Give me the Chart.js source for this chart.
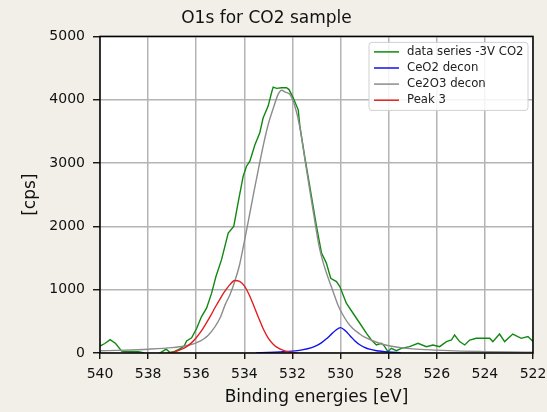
<!DOCTYPE html>
<html>
<head>
<meta charset="utf-8">
<script src="https://cdn.jsdelivr.net/npm/chart.js@4"></script>
<style>
  html, body { margin: 0; padding: 0; background: #f2efe9; }
  #wrap { width: 547px; height: 412px; }
</style>
</head>
<body>
<div id="wrap"><canvas id="xpsChart" width="547" height="412"></canvas></div>
<script>
// x axis ticks (binding energy, eV) and y ticks (cps)
const xTicks = [540, 538, 536, 534, 532, 530, 528, 526, 524, 522]
const yTicks = [0, 1000, 2000, 3000, 4000, 5000]

const seriesLabels = ['data series -3V CO2', 'CeO2 decon', 'Ce2O3 decon', 'Peak 3']
const seriesColors = ['#118811', '#1010ee', '#8c8c8c', '#e02020']

// measured spectrum
const dataX = [540.00, 539.80, 539.58, 539.35, 539.10, 538.80, 538.40, 538.25, 538.10, 537.90,
  537.60, 537.45, 537.25, 537.08, 536.90, 536.70, 536.50, 536.40, 536.19, 535.98,
  535.78, 535.57, 535.36, 535.18, 534.95, 534.67, 534.44, 534.26, 534.05, 533.91,
  533.77, 533.56, 533.36, 533.22, 533.01, 532.87, 532.80, 532.66, 532.45, 532.25,
  532.14, 531.97, 531.76, 531.69, 531.49, 531.28, 531.00, 530.79, 530.59, 530.41,
  530.17, 530.03, 529.76, 529.48, 529.20, 528.92, 528.72, 528.51, 528.30, 528.20,
  528.03, 527.89, 527.68, 527.47, 527.13, 526.78, 526.43, 526.16, 525.88, 525.60,
  525.39, 525.26, 525.05, 524.84, 524.63, 524.36, 523.80, 523.67, 523.39, 523.18,
  522.84, 522.49, 522.21, 522.00]
const dataY = [110, 150, 210, 150, 30, 20, 20, 10, -20, -40,
  -20, 15, 60, 8, 25, 60, 110, 190, 240, 390,
  575, 707, 945, 1207, 1470, 1893, 2000, 2370, 2790, 2950,
  3030, 3290, 3475, 3710, 3900, 4110, 4200, 4180, 4190, 4190,
  4160, 4030, 3840, 3580, 3100, 2630, 2000, 1577, 1420, 1180,
  1128, 1050, 786, 628, 470, 311, 205, 127, 153, 120,
  20, 74, 36, 74, 100, 153, 100, 127, 100, 180,
  205, 285, 180, 127, 205, 232, 232, 180, 300, 180,
  300, 232, 260, 180]

// CeO2 component
const ceo2X = [533.5, 533.0, 532.5, 532.0, 531.6, 531.2, 531.0, 530.8, 530.6, 530.4,
  530.2, 530.0, 529.8, 529.6, 529.4, 529.2, 529.0, 528.8, 528.5, 528.0, 527.5]
const ceo2Y = [5, 10, 18, 30, 50, 85, 115, 160, 220, 290,
  360, 400, 350, 270, 190, 130, 90, 60, 35, 15, 5]

// Ce2O3 component
const ce2o3X = [540.0, 539.0, 538.0, 537.0, 536.5, 536.0, 535.5, 535.0, 534.8, 534.6,
  534.4, 534.2, 534.0, 533.8, 533.6, 533.4, 533.2, 533.0, 532.8, 532.6,
  532.45, 532.3, 532.1, 531.9, 531.7, 531.5, 531.3, 531.1, 530.9, 530.7,
  530.5, 530.3, 530.1, 529.9, 529.7, 529.5, 529.2, 529.0, 528.5, 528.0,
  527.5, 527.0, 526.0, 525.0, 524.0, 523.0, 522.0]
const ce2o3Y = [35, 45, 60, 85, 110, 160, 280, 560, 760, 920,
  1130, 1390, 1760, 2150, 2550, 2930, 3300, 3620, 3860, 4080,
  4150, 4120, 4080, 3900, 3580, 3100, 2620, 2150, 1700, 1400,
  1170, 960, 750, 600, 480, 390, 300, 250, 170, 115,
  85, 65, 45, 30, 22, 16, 12]

// Peak 3 component
const peak3X = [537.2, 537.0, 536.8, 536.6, 536.4, 536.2, 536.0, 535.8, 535.6, 535.4,
  535.2, 535.0, 534.8, 534.6, 534.4, 534.2, 534.0, 533.8, 533.6, 533.4,
  533.2, 533.0, 532.8, 532.6, 532.4, 532.2, 532.0, 531.8]
const peak3Y = [0, 10, 30, 60, 100, 160, 240, 340, 460, 590,
  730, 860, 980, 1080, 1145, 1130, 1060, 920, 740, 550,
  370, 230, 140, 80, 45, 20, 8, 0]

const toPoints = (xs, ys) => xs.map((x, i) => ({ x: x, y: ys[i] }))

const FONT = "'DejaVu Sans', sans-serif"

// page background + white plot area + black frame
const frame = {
  id: 'frame',
  beforeDraw(chart) {
    const { ctx, chartArea: a } = chart
    ctx.save()
    ctx.fillStyle = '#f2efe9'
    ctx.fillRect(0, 0, chart.width, chart.height)
    ctx.fillStyle = '#ffffff'
    ctx.fillRect(a.left, a.top, a.right - a.left, a.bottom - a.top)
    ctx.restore()
  },
  afterDatasetsDraw(chart) {
    const { ctx, chartArea: a } = chart
    ctx.save()
    ctx.strokeStyle = '#000000'
    ctx.lineWidth = 1.5
    ctx.strokeRect(a.left, a.top, a.right - a.left, a.bottom - a.top)
    ctx.restore()
  }
}

// legend box inside the plot, upper right
const innerLegend = {
  id: 'innerLegend',
  afterDraw(chart) {
    const { ctx, chartArea: a } = chart
    const w = 159, h = 68
    const x = a.right - 5 - w
    const y = a.top + 6
    ctx.save()
    ctx.fillStyle = 'rgba(255,255,255,0.85)'
    ctx.strokeStyle = '#d0d0d0'
    ctx.lineWidth = 1
    ctx.beginPath()
    ctx.roundRect(x, y, w, h, 3)
    ctx.fill()
    ctx.stroke()
    ctx.font = '11.7px ' + FONT
    ctx.textBaseline = 'middle'
    seriesLabels.forEach((label, i) => {
      const ry = y + 9.5 + i * 16.1
      ctx.strokeStyle = seriesColors[i]
      ctx.lineWidth = 1.5
      ctx.beginPath()
      ctx.moveTo(x + 5, ry)
      ctx.lineTo(x + 30, ry)
      ctx.stroke()
      ctx.fillStyle = '#222222'
      ctx.fillText(label, x + 38, ry)
    })
    ctx.restore()
  }
}

const ctx = document.getElementById('xpsChart')

new Chart(ctx, {
  type: 'line',
  data: {
    datasets: [
      { label: seriesLabels[0], data: toPoints(dataX, dataY), borderColor: seriesColors[0], order: 4 },
      { label: seriesLabels[1], data: toPoints(ceo2X, ceo2Y), borderColor: seriesColors[1], order: 3, cubicInterpolationMode: 'monotone' },
      { label: seriesLabels[2], data: toPoints(ce2o3X, ce2o3Y), borderColor: seriesColors[2], order: 2, cubicInterpolationMode: 'monotone' },
      { label: seriesLabels[3], data: toPoints(peak3X, peak3Y), borderColor: seriesColors[3], order: 1, cubicInterpolationMode: 'monotone' }
    ]
  },
  options: {
    responsive: false,
    animation: false,
    devicePixelRatio: 1,
    layout: { padding: { left: 0, right: 14, top: 0, bottom: 0 } },
    elements: {
      point: { radius: 0 },
      line: { borderWidth: 1.4, tension: 0 }
    },
    plugins: {
      legend: { display: false },
      tooltip: { enabled: false },
      title: {
        display: true,
        text: 'O1s for CO2 sample',
        color: '#111111',
        font: { family: FONT, size: 17, weight: 'normal' },
        padding: { top: 8, bottom: 8 }
      }
    },
    scales: {
      x: {
        type: 'linear',
        reverse: true,
        min: 522,
        max: 540,
        afterFit(scale) {
          scale.height = 59
          scale.paddingLeft = 0
          scale.paddingRight = 0
        },
        afterBuildTicks(scale) { scale.ticks = xTicks.map(v => ({ value: v })) },
        grid: { color: '#b4b4b4', lineWidth: 1.5, tickColor: '#000000', tickLength: 6, tickWidth: 1.3 },
        border: { display: false },
        ticks: { color: '#111111', font: { family: FONT, size: 14 }, padding: 7, maxRotation: 0 },
        title: {
          display: true,
          text: 'Binding energies [eV]',
          color: '#111111',
          font: { family: FONT, size: 17 },
          padding: { top: 0, bottom: 4 }
        }
      },
      y: {
        min: 0,
        max: 5000,
        afterFit(scale) {
          scale.width = 100
          scale.paddingTop = 0
          scale.paddingBottom = 0
        },
        afterBuildTicks(scale) { scale.ticks = yTicks.map(v => ({ value: v })) },
        grid: { color: '#b4b4b4', lineWidth: 1.5, tickColor: '#000000', tickLength: 7, tickWidth: 1.3 },
        border: { display: false },
        ticks: {
          color: '#111111',
          font: { family: FONT, size: 14 },
          padding: 8,
          callback: v => String(v)
        },
        title: {
          display: true,
          text: '[cps]',
          color: '#111111',
          font: { family: FONT, size: 17 },
          padding: { top: 20, bottom: 0 }
        }
      }
    }
  },
  plugins: [frame, innerLegend]
})
</script>
</body>
</html>
